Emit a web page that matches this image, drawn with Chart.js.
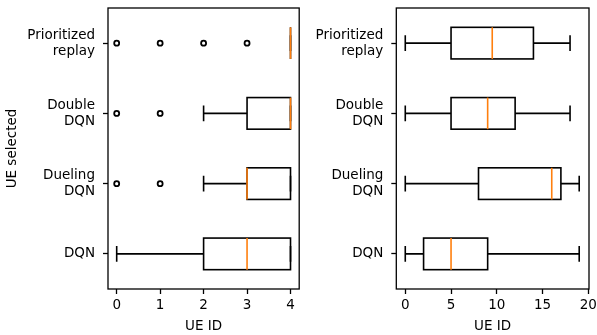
<!DOCTYPE html>
<html>
<head>
<meta charset="utf-8">
<script src="https://cdn.jsdelivr.net/npm/chart.js@4"></script>
<style>
  body { margin: 0; background: #fff; }
  #wrap { position: relative; width: 597px; height: 335px; }
  canvas { position: absolute; top: 0; }
</style>
</head>
<body>
<div id="wrap">
  <canvas id="leftChart" width="305" height="335" style="left:0"></canvas>
  <canvas id="rightChart" width="292" height="335" style="left:305px"></canvas>
</div>
<script>
// categories, bottom to top (positions 1..4)
const categories = [['DQN'], ['Dueling', 'DQN'], ['Double', 'DQN'], ['Prioritized', 'replay']];

// left panel
const leftTicks = [0, 1, 2, 3, 4];
const leftWhiskLo = [0, 2, 2, 4];
const leftQ1 = [2, 3, 3, 4];
const leftMedian = [3, 3, 4, 4];
const leftQ3 = [4, 4, 4, 4];
const leftWhiskHi = [4, 4, 4, 4];
const leftFliers = [[], [0, 1], [0, 1], [0, 1, 2, 3]];

// right panel
const rightTicks = [0, 5, 10, 15, 20];
const rightWhiskLo = [0, 0, 0, 0];
const rightQ1 = [2, 8, 5, 5];
const rightMedian = [5, 16, 9, 9.5];
const rightQ3 = [9, 17, 12, 14];
const rightWhiskHi = [19, 19, 18, 18];
const rightFliers = [[], [], [], []];

const FONT = { family: "'DejaVu Sans', sans-serif", size: 13.5 };

// draws boxes, whiskers, caps, medians and the frame using the chart scales
const boxPlugin = {
  id: 'boxplot',
  beforeDatasetsDraw(chart, args, opts) {
    const ctx = chart.ctx;
    const xs = chart.scales.x, ys = chart.scales.y;
    const half = 0.225, capHalf = 0.1125;
    ctx.save();
    ctx.lineWidth = 1.6;
    ctx.strokeStyle = '#000';
    for (let i = 0; i < opts.q1.length; i++) {
      const pos = i + 1;
      const yTop = ys.getPixelForValue(pos + half);
      const yBot = ys.getPixelForValue(pos - half);
      const yMid = ys.getPixelForValue(pos);
      const cTop = ys.getPixelForValue(pos + capHalf);
      const cBot = ys.getPixelForValue(pos - capHalf);
      const xq1 = xs.getPixelForValue(opts.q1[i]);
      const xq3 = xs.getPixelForValue(opts.q3[i]);
      const xlo = xs.getPixelForValue(opts.lo[i]);
      const xhi = xs.getPixelForValue(opts.hi[i]);
      const xmed = xs.getPixelForValue(opts.med[i]);
      ctx.strokeStyle = '#000';
      // box
      ctx.strokeRect(xq1, yTop, xq3 - xq1, yBot - yTop);
      // whiskers
      ctx.beginPath();
      ctx.moveTo(xlo, yMid); ctx.lineTo(xq1, yMid);
      ctx.moveTo(xq3, yMid); ctx.lineTo(xhi, yMid);
      // caps
      ctx.moveTo(xlo, cTop); ctx.lineTo(xlo, cBot);
      ctx.moveTo(xhi, cTop); ctx.lineTo(xhi, cBot);
      ctx.stroke();
      // median
      ctx.strokeStyle = '#ff7f0e';
      ctx.beginPath();
      ctx.moveTo(xmed, yTop); ctx.lineTo(xmed, yBot);
      ctx.stroke();
    }
    // frame
    const a = chart.chartArea;
    ctx.strokeStyle = '#000';
    ctx.lineWidth = 1.3;
    ctx.strokeRect(a.left, a.top, a.right - a.left, a.bottom - a.top);
    ctx.restore();
  }
};

function makePanel(id, cfg) {
  const flierPoints = [];
  cfg.fliers.forEach((vals, i) => vals.forEach(v => flierPoints.push({ x: v, y: i + 1 })));
  return new Chart(document.getElementById(id), {
    type: 'scatter',
    data: {
      datasets: [{
        data: flierPoints,
        pointRadius: 2.5,
        pointBorderWidth: 1.8,
        pointBackgroundColor: '#fff',
        pointBorderColor: '#000'
      }]
    },
    plugins: [boxPlugin],
    options: {
      responsive: false,
      animation: false,
      devicePixelRatio: 1,
      layout: { padding: { top: 8, right: cfg.padRight, left: 0, bottom: 0 } },
      scales: {
        x: {
          type: 'linear',
          min: cfg.xmin,
          max: cfg.xmax,
          afterBuildTicks: s => { s.ticks = cfg.ticks.map(v => ({ value: v })); },
          afterFit: s => { s.height = 46; s.paddingLeft = 0; s.paddingRight = 0; },
          grid: { drawOnChartArea: false, drawTicks: true, tickLength: 5, tickColor: '#000', tickWidth: 1.3 },
          border: { display: false },
          ticks: { color: '#000', font: FONT, padding: 3, maxRotation: 0 },
          title: { display: true, text: 'UE ID', color: '#000', font: FONT, padding: 0 }
        },
        y: {
          type: 'linear',
          min: 0.5,
          max: 4.5,
          afterBuildTicks: s => { s.ticks = categories.map((c, i) => ({ value: i + 1 })); },
          afterFit: s => { s.width = cfg.yWidth; s.paddingTop = 0; s.paddingBottom = 0; },
          grid: { drawOnChartArea: false, drawTicks: true, tickLength: 5, tickColor: '#000', tickWidth: 1.3 },
          border: { display: false },
          ticks: {
            color: '#000', font: FONT, padding: 8,
            callback: (v) => categories[v - 1]
          },
          title: { display: cfg.yTitle, text: 'UE selected', color: '#000', font: FONT, padding: { top: 4, bottom: 0 } }
        }
      },
      plugins: {
        legend: { display: false },
        tooltip: { enabled: false },
        boxplot: { lo: cfg.lo, q1: cfg.q1, med: cfg.med, q3: cfg.q3, hi: cfg.hi }
      }
    }
  });
}

makePanel('leftChart', {
  ticks: leftTicks, xmin: -0.2, xmax: 4.2, padRight: 4, yWidth: 108, yTitle: true,
  lo: leftWhiskLo, q1: leftQ1, med: leftMedian, q3: leftQ3, hi: leftWhiskHi, fliers: leftFliers
});

makePanel('rightChart', {
  ticks: rightTicks, xmin: -0.98, xmax: 20.07, padRight: 8, yWidth: 91.3, yTitle: false,
  lo: rightWhiskLo, q1: rightQ1, med: rightMedian, q3: rightQ3, hi: rightWhiskHi, fliers: rightFliers
});
</script>
</body>
</html>
